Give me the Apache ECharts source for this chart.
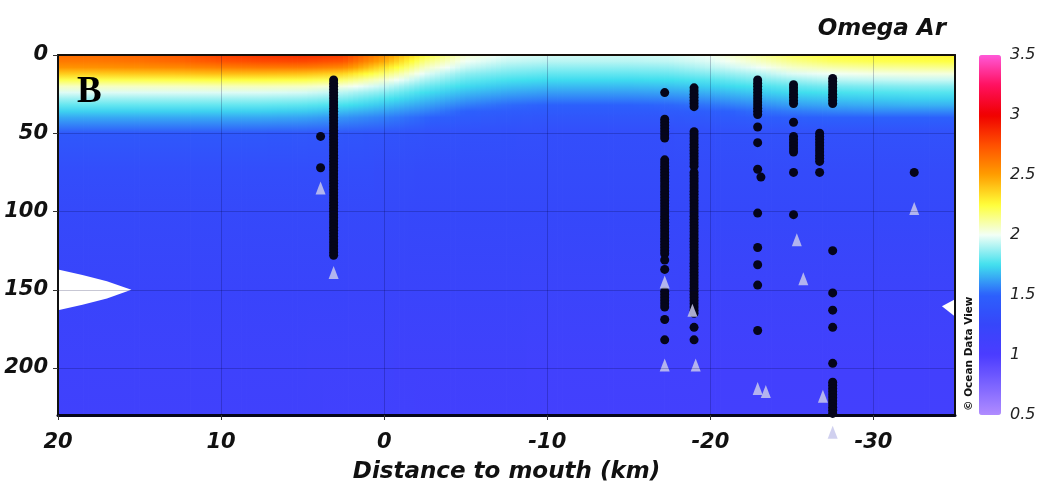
<!DOCTYPE html>
<html>
<head>
<meta charset="utf-8">
<script src="https://cdn.jsdelivr.net/npm/echarts@6/dist/echarts.min.js"></script>
<style>
  html, body { margin: 0; padding: 0; background: #ffffff; }
  #chart { width: 1045px; height: 485px; }
</style>
</head>
<body>
<div id="chart"></div>
<script>
// Section nodes: distance to river mouth (km) and depth (m)
const distanceKm = [20, 17.5, 15, 12.5, 10, 7.5, 5, 2.5, 0, -2.5, -5, -7.5, -10, -12.5, -15, -17.5, -20, -22.5, -25, -27.5, -30, -32.5, -35];
const depthLevels = [0, 4, 8, 12, 16, 20, 24, 28, 32, 36, 40, 50, 75, 100, 150, 200, 230];

// Gridded aragonite saturation state, one row per depth level, one column per distance node
const omegaAr = [
  [2.66, 2.66, 2.68, 2.72, 2.80, 2.84, 2.86, 2.82, 2.55, 2.25, 2.05, 1.98, 1.96, 1.95, 1.95, 1.96, 2.00, 2.10, 2.20, 2.25, 2.26, 2.27, 2.28],
  [2.62, 2.62, 2.64, 2.68, 2.74, 2.77, 2.78, 2.74, 2.47, 2.16, 2.00, 1.94, 1.92, 1.92, 1.92, 1.93, 1.97, 2.05, 2.14, 2.20, 2.22, 2.23, 2.24],
  [2.53, 2.54, 2.55, 2.57, 2.60, 2.62, 2.62, 2.57, 2.33, 2.07, 1.94, 1.88, 1.86, 1.86, 1.86, 1.87, 1.92, 1.98, 2.06, 2.10, 2.12, 2.13, 2.14],
  [2.38, 2.38, 2.39, 2.40, 2.42, 2.42, 2.41, 2.36, 2.18, 1.98, 1.86, 1.82, 1.80, 1.80, 1.80, 1.81, 1.85, 1.90, 1.97, 2.00, 2.02, 2.03, 2.03],
  [2.22, 2.22, 2.22, 2.23, 2.24, 2.24, 2.23, 2.18, 2.05, 1.90, 1.80, 1.76, 1.74, 1.74, 1.74, 1.75, 1.78, 1.83, 1.88, 1.92, 1.93, 1.94, 1.94],
  [2.07, 2.07, 2.07, 2.07, 2.08, 2.08, 2.07, 2.03, 1.94, 1.82, 1.74, 1.70, 1.68, 1.68, 1.68, 1.69, 1.72, 1.76, 1.80, 1.83, 1.84, 1.85, 1.85],
  [1.97, 1.97, 1.97, 1.97, 1.97, 1.97, 1.96, 1.92, 1.85, 1.75, 1.68, 1.64, 1.62, 1.62, 1.62, 1.63, 1.66, 1.70, 1.74, 1.76, 1.77, 1.78, 1.78],
  [1.88, 1.88, 1.88, 1.88, 1.88, 1.88, 1.87, 1.84, 1.77, 1.69, 1.62, 1.58, 1.56, 1.56, 1.56, 1.57, 1.60, 1.64, 1.68, 1.70, 1.71, 1.72, 1.72],
  [1.80, 1.80, 1.80, 1.80, 1.80, 1.80, 1.79, 1.76, 1.70, 1.63, 1.56, 1.52, 1.50, 1.50, 1.50, 1.51, 1.54, 1.58, 1.62, 1.64, 1.65, 1.66, 1.66],
  [1.72, 1.72, 1.72, 1.72, 1.72, 1.72, 1.71, 1.68, 1.63, 1.57, 1.50, 1.46, 1.44, 1.44, 1.44, 1.45, 1.48, 1.52, 1.55, 1.57, 1.58, 1.58, 1.58],
  [1.64, 1.64, 1.64, 1.64, 1.64, 1.64, 1.63, 1.60, 1.56, 1.51, 1.45, 1.42, 1.40, 1.40, 1.40, 1.41, 1.43, 1.46, 1.48, 1.50, 1.50, 1.50, 1.50],
  [1.42, 1.42, 1.42, 1.42, 1.42, 1.42, 1.41, 1.40, 1.38, 1.36, 1.35, 1.34, 1.33, 1.33, 1.33, 1.33, 1.34, 1.35, 1.36, 1.36, 1.36, 1.36, 1.36],
  [1.32, 1.32, 1.32, 1.32, 1.32, 1.32, 1.32, 1.32, 1.31, 1.30, 1.30, 1.30, 1.30, 1.30, 1.30, 1.30, 1.30, 1.30, 1.30, 1.30, 1.30, 1.30, 1.30],
  [1.28, 1.28, 1.28, 1.28, 1.28, 1.28, 1.28, 1.28, 1.28, 1.27, 1.27, 1.27, 1.27, 1.27, 1.27, 1.27, 1.27, 1.27, 1.27, 1.27, 1.27, 1.27, 1.27],
  [1.21, 1.21, 1.21, 1.21, 1.21, 1.21, 1.21, 1.21, 1.20, 1.20, 1.20, 1.20, 1.19, 1.19, 1.19, 1.19, 1.18, 1.18, 1.18, 1.18, 1.18, 1.18, 1.18],
  [1.15, 1.15, 1.15, 1.15, 1.15, 1.15, 1.15, 1.14, 1.14, 1.13, 1.13, 1.13, 1.12, 1.12, 1.12, 1.12, 1.11, 1.11, 1.11, 1.11, 1.11, 1.11, 1.11],
  [1.13, 1.13, 1.13, 1.13, 1.13, 1.13, 1.13, 1.12, 1.12, 1.11, 1.11, 1.11, 1.10, 1.10, 1.10, 1.10, 1.09, 1.09, 1.09, 1.09, 1.09, 1.09, 1.09]
];

// Colour scale, evenly spaced from 0.5 to 3.5
const colorbarColors = ['#b08cff', '#7c64ff', '#4b3cff', '#3646fa', '#2c60fc', '#40e0ee', '#f2fff6',
                        '#ffff3a', '#ff9e00', '#ff5000', '#f00000', '#ff1060', '#ff58d8'];
const omegaMin = 0.5;
const omegaMax = 3.5;

// Axis tick values
const xTickValues = [20, 10, 0, -10, -20, -30];
const depthTickValues = [0, 50, 100, 150, 200];

// Sampling stations (km) and bottle depths (m) per station
const stationKm = [3.1, -17.2, -19.0, -22.9, -25.1, -26.7, -27.5, -32.5];
const bottleDepths = [
  [16, 18, 20, 22, 24, 26, 28, 30, 32, 34, 36, 38, 40, 42, 44, 46, 48, 50, 52, 54, 56, 58, 60, 62, 64, 66, 68, 70, 72, 74, 76, 78, 80, 82, 84, 86, 88, 90, 92, 94, 96, 98, 100, 102, 104, 106, 108, 110, 112, 114, 116, 118, 120, 122, 124, 126, 128],
  [24, 41, 43, 45, 47, 49, 51, 53, 67, 69, 71, 73, 75, 77, 79, 81, 83, 85, 87, 89, 91, 93, 95, 97, 99, 101, 103, 105, 107, 109, 111, 113, 115, 117, 119, 121, 123, 125, 127, 131, 137, 151, 153, 155, 157, 159, 161, 169, 182],
  [21, 23, 25, 27, 29, 31, 33, 49, 51, 53, 55, 57, 59, 61, 63, 65, 67, 69, 71, 75, 77, 79, 81, 83, 85, 87, 89, 91, 93, 95, 97, 99, 101, 103, 105, 107, 109, 111, 113, 115, 117, 119, 121, 123, 125, 127, 129, 131, 133, 135, 137, 139, 141, 143, 145, 147, 149, 151, 153, 155, 157, 159, 161, 163, 165, 174, 182],
  [16, 18, 20, 22, 24, 26, 28, 30, 32, 34, 36, 38, 46, 56, 73, 101, 123, 134, 147, 176],
  [19, 21, 23, 25, 27, 29, 31, 43, 52, 54, 56, 58, 60, 62, 75, 102],
  [50, 52, 54, 56, 58, 60, 62, 64, 66, 68, 75],
  [15, 17, 19, 21, 23, 25, 27, 29, 31, 125, 152, 163, 174, 197, 209, 211, 213, 215, 217, 219, 221, 223, 225, 227, 229],
  [75]
];
// Bottles taken slightly off the station line: [km, depth]
const offsetBottles = [[3.9, 52], [3.9, 72], [-23.1, 78]];
// Bottom depth markers: [km, depth]
const bottomMarks = [[3.9, 85], [3.1, 139], [-17.2, 145], [-17.2, 198], [-18.9, 163], [-19.1, 198],
                     [-22.9, 213], [-23.4, 215], [-25.3, 118], [-25.7, 143], [-26.9, 218], [-27.5, 241], [-32.5, 98]];
// Areas without gridded values: polygons of [km, depth]
const noDataShapes = [
  [[20, 137], [18.5, 140.5], [17, 144.5], [15.5, 150], [17, 155.5], [18.5, 159.5], [20, 163]],
  [[-35, 156], [-34.2, 160.5], [-35, 167]]
];

const depthMax = 230;
const labelFont = 'DejaVu Sans';

function omegaColor(v) {
  const t = Math.min(1, Math.max(0, (v - omegaMin) / (omegaMax - omegaMin)));
  return echarts.color.lerp(t, colorbarColors);
}

// Field drawn as thin vertical strips between neighbouring distance nodes,
// each strip filled with a depth gradient of the section values.
function renderField(params, api) {
  const i = params.dataIndex;
  const xa = distanceKm[i], xb = distanceKm[i + 1];
  const steps = 8;
  const children = [];
  for (let k = 0; k < steps; k++) {
    const f0 = k / steps, f1 = (k + 1) / steps, fm = (k + 0.5) / steps;
    const p0 = api.coord([xa + (xb - xa) * f0, 0]);
    const p1 = api.coord([xa + (xb - xa) * f1, depthMax]);
    const stops = depthLevels.map((d, j) => ({
      offset: d / depthMax,
      color: omegaColor(omegaAr[j][i] * (1 - fm) + omegaAr[j][i + 1] * fm)
    }));
    children.push({
      type: 'rect',
      shape: { x: Math.min(p0[0], p1[0]) - 0.4, y: p0[1], width: Math.abs(p1[0] - p0[0]) + 0.8, height: p1[1] - p0[1] },
      style: { fill: new echarts.graphic.LinearGradient(0, 0, 0, 1, stops) }
    });
  }
  return { type: 'group', children: children };
}

function renderNoData(params, api) {
  const pts = noDataShapes[params.dataIndex].map(p => api.coord(p));
  return { type: 'polygon', shape: { points: pts }, style: { fill: '#ffffff' } };
}

const bottleData = [];
stationKm.forEach((km, s) => bottleDepths[s].forEach(d => bottleData.push([km, d])));
offsetBottles.forEach(b => bottleData.push(b));

const fieldData = distanceKm.slice(0, -1).map((km, i) => [km, distanceKm[i + 1]]);

const tickText = { fontFamily: labelFont, fontStyle: 'italic', fontWeight: 'bold', fontSize: 21, color: '#111' };

const chart = echarts.init(document.getElementById('chart'), null, { renderer: 'canvas' });
chart.setOption({
  animation: false,
  backgroundColor: '#ffffff',
  grid: [
    { left: 58, right: 90, top: 55, bottom: 70, outerBoundsMode: 'none' },
    { left: 979, top: 55, width: 22, height: 360, outerBoundsMode: 'none' }
  ],
  xAxis: [
    {
      type: 'value', min: -35, max: 20, interval: 5, inverse: true, position: 'bottom', z: 10,
      name: 'Distance to mouth (km)', nameLocation: 'middle', nameGap: 46,
      nameTextStyle: { fontFamily: labelFont, fontStyle: 'italic', fontWeight: 'bold', fontSize: 23, color: '#111' },
      axisLine: { show: true, onZero: false, lineStyle: { color: '#06061a', width: 3 } },
      axisTick: { show: true, customValues: xTickValues, length: 5, lineStyle: { color: '#333' } },
      axisLabel: Object.assign({ customValues: xTickValues, margin: 17 }, tickText),
      splitLine: { show: false }
    },
    {
      type: 'value', min: -35, max: 20, inverse: true, position: 'top', z: 10,
      axisLine: { show: true, onZero: false, lineStyle: { color: '#15100a', width: 2 } },
      axisTick: { show: false }, axisLabel: { show: false }, splitLine: { show: false }
    },
    { gridIndex: 1, type: 'value', min: 0, max: 1, show: false }
  ],
  yAxis: [
    {
      type: 'value', min: 0, max: depthMax, interval: 50, inverse: true, z: 10,
      axisLine: { show: true, onZero: false, lineStyle: { color: '#111', width: 2 } },
      axisTick: { show: true, customValues: depthTickValues, length: 5, lineStyle: { color: '#333' } },
      axisLabel: Object.assign({ customValues: depthTickValues, margin: 10 }, tickText),
      splitLine: { show: true, lineStyle: { color: 'rgba(0,0,60,0.22)', width: 1 } }
    },
    {
      type: 'value', min: 0, max: depthMax, inverse: true, position: 'right', z: 10,
      axisLine: { show: true, onZero: false, lineStyle: { color: '#111', width: 2 } },
      axisTick: { show: false }, axisLabel: { show: false }, splitLine: { show: false }
    },
    {
      gridIndex: 1, type: 'value', min: omegaMin, max: omegaMax, interval: 0.5, position: 'right',
      axisLine: { show: false }, axisTick: { show: false }, splitLine: { show: false },
      axisLabel: { margin: 9, fontFamily: labelFont, fontStyle: 'italic', fontSize: 16, color: '#222' }
    }
  ],
  visualMap: {
    type: 'continuous', min: omegaMin, max: omegaMax, seriesIndex: [],
    inRange: { color: colorbarColors },
    orient: 'vertical', left: 979, top: 55, padding: 0,
    itemWidth: 22, itemHeight: 360, calculable: false, text: null
  },
  series: [
    {
      name: 'Omega Ar', type: 'custom', xAxisIndex: 0, yAxisIndex: 0, z: 1, silent: true, clip: true,
      encode: { x: [0, 1] },
      data: fieldData,
      renderItem: renderField,
      markLine: {
        silent: true, symbol: 'none', label: { show: false },
        lineStyle: { color: 'rgba(0,0,60,0.22)', type: 'solid', width: 1 },
        data: xTickValues.map(v => ({ xAxis: v }))
      }
    },
    {
      name: 'no data', type: 'custom', xAxisIndex: 0, yAxisIndex: 0, z: 2, silent: true,
      data: noDataShapes.map(s => s[0]),
      renderItem: renderNoData
    },
    {
      name: 'bottles', type: 'scatter', xAxisIndex: 0, yAxisIndex: 0, z: 4, clip: false,
      symbol: 'circle', symbolSize: 9,
      itemStyle: { color: '#05051a', opacity: 1 },
      data: bottleData
    },
    {
      name: 'bottom', type: 'scatter', xAxisIndex: 0, yAxisIndex: 0, z: 5, clip: false,
      symbol: 'triangle', symbolSize: [10, 13],
      itemStyle: { color: 'rgba(200,200,236,0.85)', opacity: 1 },
      data: bottomMarks
    }
  ],
  graphic: [
    { type: 'text', right: 1045 - 946, top: 18, z: 20,
      style: { text: 'Omega Ar', fontFamily: labelFont, fontStyle: 'italic', fontWeight: 'bold', fontSize: 23, fill: '#111' } },
    { type: 'text', left: 77, top: 74, z: 20,
      style: { text: 'B', fontFamily: 'Liberation Serif', fontWeight: 'bold', fontSize: 37, fill: '#000' } },
    { type: 'text', x: 969, y: 411, rotation: Math.PI / 2, z: 20,
      style: { text: '© Ocean Data View', fontFamily: labelFont, fontWeight: 'bold', fontSize: 10.5, fill: '#111', align: 'left', verticalAlign: 'middle' } }
  ]
});
</script>
</body>
</html>
